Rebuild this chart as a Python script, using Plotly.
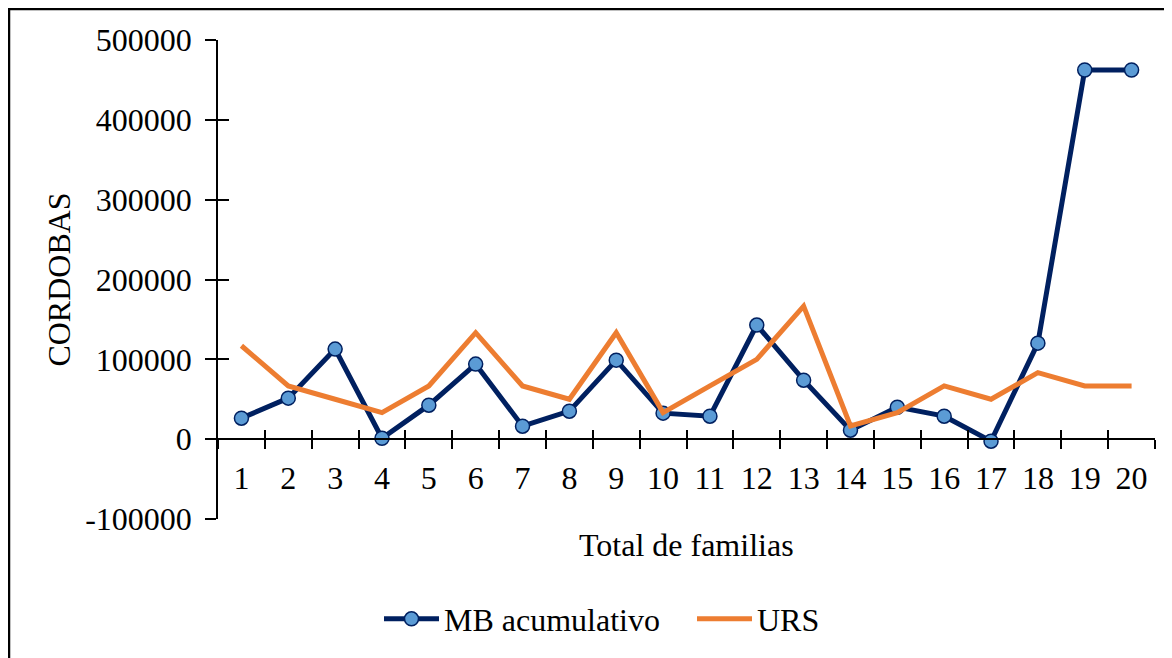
import plotly.graph_objects as go

categories = [str(i) for i in range(1, 21)]
mb_acumulativo = [26300, 51400, 112800, 1200, 42600, 94000, 16300, 35100, 99000, 32600,
                  28800, 142900, 73900, 11300, 40100, 28800, -2500, 120300, 462400, 462400]
urs = [117000, 66667, 50000, 33333, 66667, 133333, 66667, 50000, 133333, 33333,
       66667, 100000, 166667, 16667, 33333, 66667, 50000, 83333, 66667, 66667]
y_ticks = [-100000, 0, 100000, 200000, 300000, 400000, 500000]
y_tick_labels = ["-100000", "0", "100000", "200000", "300000", "400000", "500000"]

FONT = "Liberation Serif"
FS = 32
# page body has an 8px margin, so the figure starts at (8, 8) of the window
OFF = 8
W, H = 1172 - OFF, 658 - OFF
L, R, T, B = 218 - OFF, 17, 40 - OFF, 139
pw, ph = W - L - R, H - T - B
ymin, ymax = -100000, 500000
zero_pos = (0 - ymin) / (ymax - ymin)


def px_x(sx):
    return (sx - OFF - L) / pw


def px_y(sy):
    return (H - (sy - OFF) - B) / ph


fig = go.Figure()
fig.add_trace(go.Scatter(
    x=categories, y=mb_acumulativo, name="MB acumulativo", mode="lines+markers",
    line=dict(color="#002060", width=5),
    marker=dict(size=14, color="#5B9BD5", line=dict(color="#002060", width=1.5)),
))
fig.add_trace(go.Scatter(
    x=categories, y=urs, name="URS", mode="lines",
    line=dict(color="#ED7D31", width=5),
))

axis_common = dict(showgrid=False, zeroline=False, linecolor="black", linewidth=1.5,
                   tickcolor="black", tickwidth=1.5)

fig.update_layout(
    width=W, height=H,
    margin=dict(l=L, r=R, t=T, b=B),
    paper_bgcolor="white", plot_bgcolor="white",
    font=dict(family=FONT, size=FS, color="black"),
    showlegend=True,
    legend=dict(orientation="h", x=px_x(379), xanchor="left",
                y=px_y(619), yanchor="middle",
                font=dict(family=FONT, size=FS, color="black"), itemwidth=55,
                entrywidth=243, entrywidthmode="pixels",
                bgcolor="rgba(0,0,0,0)"),
    xaxis=dict(type="category", categoryorder="array", categoryarray=categories,
               range=[-0.5, 19.5], anchor="free", position=zero_pos,
               tickson="boundaries", ticks="outside", ticklen=9,
               showline=True, tickfont=dict(family=FONT, size=FS), ticklabelstandoff=11,
               **axis_common),
    xaxis2=dict(type="category", categoryorder="array", categoryarray=categories,
                range=[-0.5, 19.5], anchor="free", position=zero_pos, overlaying="x",
                tickson="boundaries", ticks="inside", ticklen=9, showticklabels=False,
                showline=False, **axis_common),
    yaxis=dict(range=[ymin, ymax], tickvals=y_ticks, ticktext=y_tick_labels,
               ticks="outside", ticklen=11,
               showline=True, tickfont=dict(family=FONT, size=FS), ticklabelstandoff=7,
               title=dict(text="CORDOBAS", font=dict(family=FONT, size=FS), standoff=5),
               **axis_common),
    yaxis2=dict(range=[ymin, ymax], tickvals=y_ticks, ticks="inside", ticklen=11,
                overlaying="y", showticklabels=False, showline=False, **axis_common),
)

# invisible trace for the overlaid axes
fig.add_trace(go.Scatter(x=categories, y=urs, xaxis="x2", yaxis="y2",
                         mode="lines", line=dict(width=0), opacity=0,
                         showlegend=False, hoverinfo="skip"))

fig.add_annotation(text="Total de familias", xref="paper", yref="paper",
                   x=px_x(686), y=px_y(545), xanchor="center", yanchor="middle",
                   showarrow=False, font=dict(family=FONT, size=FS, color="black"))

# outer chart border
fig.add_shape(type="rect", xref="paper", yref="paper",
              x0=px_x(9), x1=px_x(1200),
              y0=px_y(700), y1=px_y(9),
              line=dict(color="black", width=2.5), fillcolor="rgba(0,0,0,0)", layer="below")

fig.write_html("out.html")
